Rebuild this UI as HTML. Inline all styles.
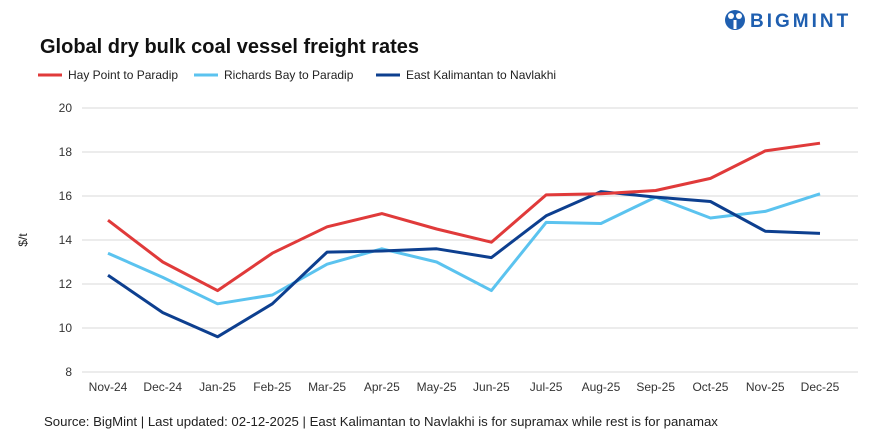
<!DOCTYPE html>
<html><head><meta charset="utf-8"><style>
body{margin:0;background:#fff;width:876px;height:443px;overflow:hidden;font-family:"Liberation Sans",sans-serif}
</style></head><body>
<svg width="876" height="443" xmlns="http://www.w3.org/2000/svg">
<g>
<circle cx="735" cy="20" r="10" fill="#1f5fb0"/>
<circle cx="731" cy="16" r="3" fill="#fff"/><circle cx="739" cy="16" r="3" fill="#fff"/>
<rect x="733.5" y="20" width="3" height="9" fill="#fff"/>
<text x="750" y="27" font-size="19" font-weight="bold" fill="#1f5fb0" letter-spacing="3">BIGMINT</text>
</g>
<text x="40" y="53" font-size="20" font-weight="bold" fill="#111">Global dry bulk coal vessel freight rates</text>
<g id="legend"></g>
<text transform="translate(27,240) rotate(-90)" font-size="12" text-anchor="middle" fill="#222">$/t</text>
<g id="grid"></g><g id="lines"></g><g id="xl"></g>
<text x="44" y="426" font-size="13.2" fill="#222">Source: BigMint | Last updated: 02-12-2025 | East Kalimantan to Navlakhi is for supramax while rest is for panamax</text>
</svg>
<script>
const categories=["Nov-24","Dec-24","Jan-25","Feb-25","Mar-25","Apr-25","May-25","Jun-25","Jul-25","Aug-25","Sep-25","Oct-25","Nov-25","Dec-25"];
const hayPoint=[14.9,13.0,11.7,13.4,14.6,15.2,14.5,13.9,16.05,16.1,16.25,16.8,18.05,18.4];
const richardsBay=[13.4,12.3,11.1,11.5,12.9,13.6,13.0,11.7,14.8,14.75,15.95,15.0,15.3,16.1];
const eastKalimantan=[12.4,10.7,9.6,11.1,13.45,13.5,13.6,13.2,15.1,16.2,15.95,15.75,14.4,14.3];
const yTicks=[8,10,12,14,16,18,20];
const seriesNames=["Hay Point to Paradip","Richards Bay to Paradip","East Kalimantan to Navlakhi"];
const NS="http://www.w3.org/2000/svg";
const x=i=>108+i*(712/13);
const y=v=>372-(v-8)*22;
function mk(t,a,p){const e=document.createElementNS(NS,t);for(const k in a)e.setAttribute(k,a[k]);p.appendChild(e);return e;}
const grid=document.getElementById('grid');
yTicks.forEach(v=>{
  const l=mk('line',{x1:82,x2:858,y1:y(v),y2:y(v),stroke:'#d9d9d9','stroke-width':1},grid);
  
  
  const t=mk('text',{x:72,y:y(v)+4,'font-size':12,'text-anchor':'end',fill:'#333'},grid);
  t.textContent=v;
  
  
});
const xl=document.getElementById('xl');
categories.forEach((c,i)=>{
  const t=mk('text',{x:x(i),y:391,'font-size':12,'text-anchor':'middle',fill:'#333'},xl);
  t.textContent=c;
  
  
});
const colors=['#e03a3a','#5bc3ef','#0d3f8f'];
const data=[hayPoint,richardsBay,eastKalimantan];
const lines=document.getElementById('lines');
[1,2,0].forEach(s=>{
  const p=mk('polyline',{points:data[s].map((v,i)=>x(i)+','+y(v)).join(' '),fill:'none',stroke:colors[s],'stroke-width':3,'stroke-linejoin':'round'},lines);
  
  
});
const lg=document.getElementById('legend');
const lx=[38,194,376];
seriesNames.forEach((n,s)=>{
  const l=mk('line',{x1:lx[s],x2:lx[s]+24,y1:75,y2:75,stroke:colors[s],'stroke-width':3},lg);
  
  
  const t=mk('text',{x:lx[s]+30,y:79,'font-size':12,fill:'#222'},lg);
  t.textContent=n;
  
  
});
</script>
</body></html>
